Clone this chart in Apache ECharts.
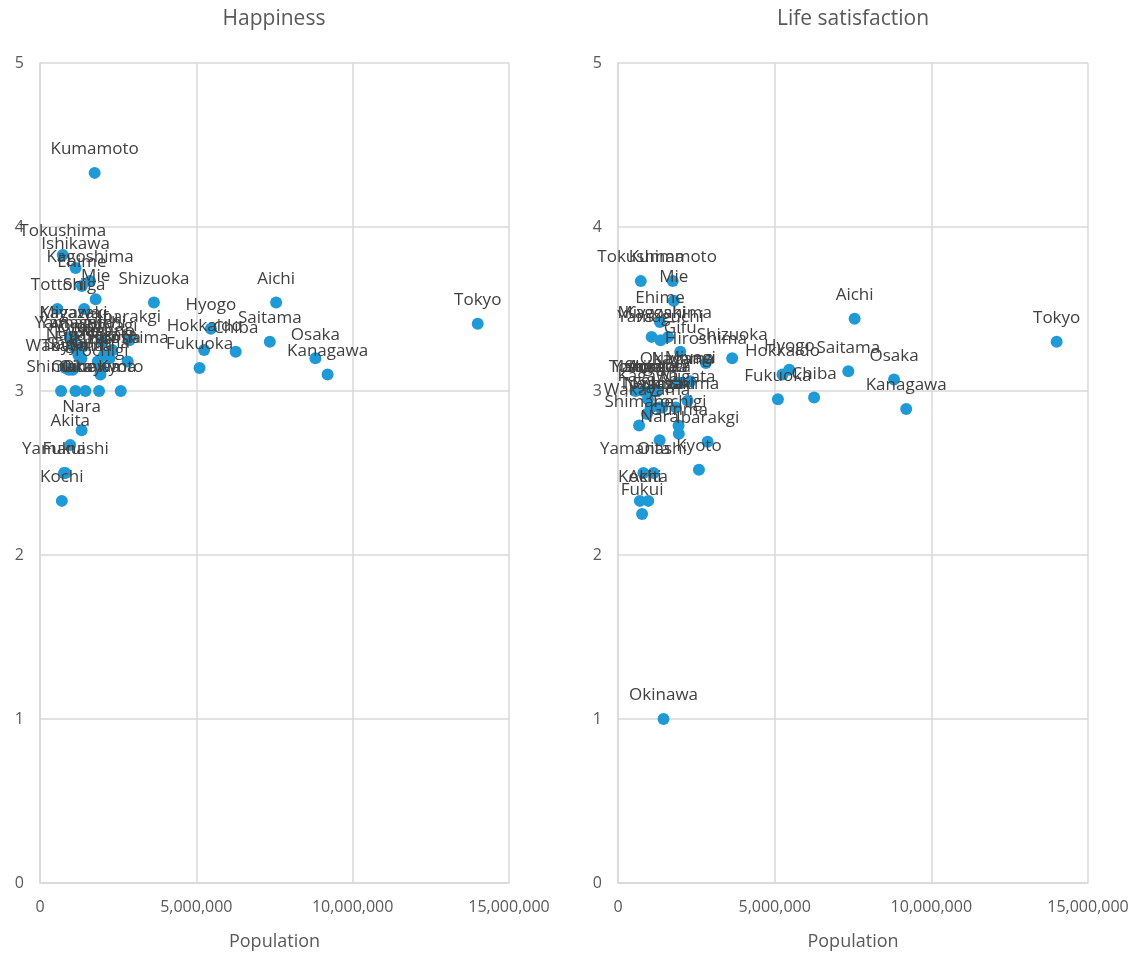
<!DOCTYPE html>
<html>
<head>
<meta charset="utf-8">
<title>Happiness / Life satisfaction by prefecture</title>
<script src="https://cdn.jsdelivr.net/npm/echarts@6/dist/echarts.min.js"></script>
<style>
  html, body { margin: 0; padding: 0; background: #fff; }
  #chart { width: 1135px; height: 954px; }
</style>
</head>
<body>
<div id="chart"></div>
<script>
// prefectures, in the same order for every array below
const prefectures = [
    "Hokkaido", "Aomori", "Iwate", "Miyagi", "Akita", "Yamagata", "Fukushima",
    "Ibarakgi", "Tochigi", "Gunma", "Saitama", "Chiba", "Tokyo", "Kanagawa",
    "Niigata", "Toyama", "Ishikawa", "Fukui", "Yamanashi", "Nagano", "Gifu",
    "Shizuoka", "Aichi", "Mie", "Shiga", "Kyoto", "Osaka", "Hyogo", "Nara",
    "Wakayama", "Tottori", "Shimane", "Okayama", "Hiroshima", "Yamaguchi",
    "Tokushima", "Kagawa", "Ehime", "Kochi", "Fukuoka", "Saga", "Nagasaki",
    "Kumamoto", "Oita", "Miyazaki", "Kagoshima", "Okinawa"
];

const population = [
    5250000, 1246000, 1227000, 2306000, 966000, 1078000, 1846000,
    2860000, 1934000, 1942000, 7350000, 6259000, 14000000, 9198000,
    2223000, 1044000, 1138000, 768000, 811000, 2049000, 1987000,
    3644000, 7552000, 1781000, 1414000, 2583000, 8809000, 5466000, 1330000,
    925000, 556000, 674000, 1890000, 2804000, 1358000,
    728000, 956000, 1339000, 698000, 5104000, 815000, 1327000,
    1748000, 1135000, 1073000, 1602000, 1453000
];

const happiness = [
    3.25, 3.25, 3.22, 3.25, 2.67, 3.27, 3.18,
    3.31, 3.10, 3.15, 3.30, 3.24, 3.41, 3.10,
    3.20, 3.13, 3.75, 2.50, 2.50, 3.22, 3.30,
    3.54, 3.54, 3.56, 3.50, 3.00, 3.20, 3.38, 2.76,
    3.13, 3.50, 3.00, 3.00, 3.18, 3.27,
    3.83, 3.33, 3.64, 2.33, 3.14, 3.14, 3.20,
    4.33, 3.00, 3.33, 3.67, 3.00
];

const lifeSatisfaction = [
    3.10, 3.00, 3.00, 3.06, 2.33, 3.00, 2.90,
    2.69, 2.79, 2.74, 3.12, 2.96, 3.30, 2.89,
    2.94, 2.90, 3.00, 2.25, 2.50, 3.05, 3.24,
    3.20, 3.44, 3.55, 2.90, 2.52, 3.07, 3.13, 2.70,
    2.86, 3.00, 2.79, 3.05, 3.17, 3.31,
    3.67, 2.95, 3.42, 2.33, 2.95, 3.00, 2.90,
    3.67, 2.50, 3.33, 3.33, 1.00
];

const xTicks = { min: 0, max: 15000000, interval: 5000000 };
const yTicks = { min: 0, max: 5, interval: 1 };

const FONT = "Open Sans, Noto Sans, sans-serif";
const TXT = "#595959";
const GRID_LINE = "#d9d9d9";
const DOT = "#1f9ad6";

function toPoints(values) {
    return prefectures.map((name, i) => ({ name: name, value: [population[i], values[i]] }));
}

function fmtNum(v) {
    return String(v).replace(/\B(?=(\d{3})+(?!\d))/g, ",");
}

function xAxisFor(gridIndex) {
    return {
        gridIndex: gridIndex,
        type: "value",
        min: xTicks.min, max: xTicks.max, interval: xTicks.interval,
        name: "Population",
        nameLocation: "middle",
        nameGap: 50,
        nameTextStyle: { color: TXT, fontSize: 18, fontFamily: FONT },
        axisLine: { show: true, onZero: false, lineStyle: { color: GRID_LINE, width: 1.5 } },
        axisTick: { show: false },
        splitLine: { show: true, lineStyle: { color: GRID_LINE, width: 1.5 } },
        axisLabel: { color: TXT, fontSize: 16, fontFamily: FONT, margin: 16, formatter: fmtNum }
    };
}

function yAxisFor(gridIndex) {
    return {
        gridIndex: gridIndex,
        type: "value",
        min: yTicks.min, max: yTicks.max, interval: yTicks.interval,
        axisLine: { show: true, lineStyle: { color: GRID_LINE, width: 1.5 } },
        axisTick: { show: false },
        splitLine: { show: true, lineStyle: { color: GRID_LINE, width: 1.5 } },
        axisLabel: { color: TXT, fontSize: 16, fontFamily: FONT, margin: 16 }
    };
}

function seriesFor(idx, values) {
    return {
        type: "scatter",
        xAxisIndex: idx,
        yAxisIndex: idx,
        symbolSize: 12,
        itemStyle: { color: DOT, opacity: 1 },
        label: {
            show: true,
            position: "top",
            distance: 9,
            formatter: "{b}",
            color: "#404040",
            fontSize: 17,
            fontFamily: FONT
        },
        labelLayout: { hideOverlap: false },
        emphasis: { disabled: true },
        data: toPoints(values)
    };
}

const chart = echarts.init(document.getElementById("chart"), null, { renderer: "canvas" });

chart.setOption({
    backgroundColor: "#fff",
    animation: false,
    textStyle: { fontFamily: FONT },
    title: [
        { text: "Happiness", left: 274, top: 9, padding: 0, textAlign: "center",
          textStyle: { color: TXT, fontSize: 21, fontWeight: "normal", fontFamily: FONT } },
        { text: "Life satisfaction", left: 853, top: 9, padding: 0, textAlign: "center",
          textStyle: { color: TXT, fontSize: 21, fontWeight: "normal", fontFamily: FONT } }
    ],
    grid: [
        { left: 40, top: 63, width: 469, height: 820, outerBoundsMode: "none" },
        { left: 618, top: 63, width: 470, height: 820, outerBoundsMode: "none" }
    ],
    xAxis: [xAxisFor(0), xAxisFor(1)],
    yAxis: [yAxisFor(0), yAxisFor(1)],
    series: [seriesFor(0, happiness), seriesFor(1, lifeSatisfaction)]
});
</script>
</body>
</html>
